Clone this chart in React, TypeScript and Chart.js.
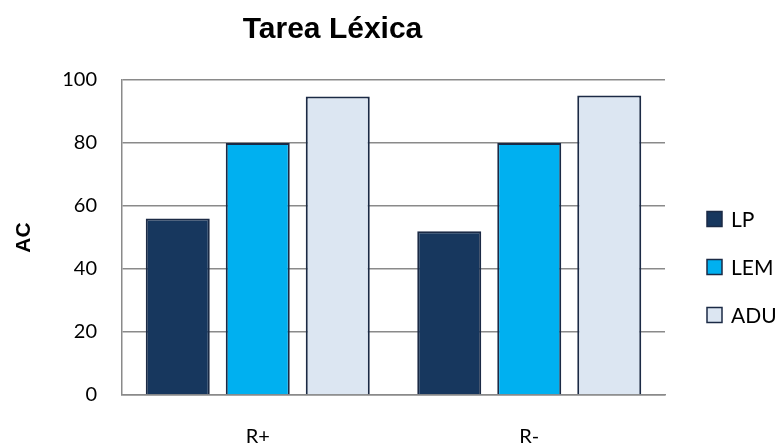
import React, { useEffect, useRef } from "react";
import { Chart, registerables } from "chart.js";

Chart.register(...registerables);

const chartTitle = "Tarea Léxica";
const yAxisTitle = "AC";
const categories = ["R+", "R-"];
const seriesNames = ["LP", "LEM", "ADU"];
const lpValues = [56, 52];
const lemValues = [80, 80];
const aduValues = [94.8, 95.1];
const yMin = 0;
const yMax = 100;
const yStep = 20;

const fills = ["#17375e", "#00b0f0", "#dce6f2"];
const barBorder = "#1b2a45";
const gridColor = "#8a8a8a";
const FONT = "Lato, 'Open Sans', sans-serif";
const TITLE_FONT = "'Liberation Sans', Arial, sans-serif";

const sideLegend = {
  id: "sideLegend",
  afterDraw(chart: any) {
    const { ctx, chartArea } = chart;
    const x = chartArea.right + 42;
    const y0 = chartArea.top + 139;
    const gap = 48;
    const size = 15;
    ctx.save();
    ctx.font = `21px ${FONT}`;
    ctx.textBaseline = "middle";
    ctx.textAlign = "left";
    chart.data.datasets.forEach((ds: any, i: number) => {
      const cy = y0 + i * gap;
      ctx.fillStyle = ds.backgroundColor;
      ctx.fillRect(x, cy - size / 2, size, size);
      ctx.strokeStyle = barBorder;
      ctx.lineWidth = 1.5;
      ctx.strokeRect(x, cy - size / 2, size, size);
      ctx.fillStyle = "#000";
      ctx.fillText(ds.label, x + 24, cy + 1);
    });
    ctx.restore();
  },
};

export default function App() {
  const ref = useRef<HTMLCanvasElement | null>(null);

  useEffect(() => {
    if (!ref.current) return;
    const seriesValues = [lpValues, lemValues, aduValues];
    const chart = new Chart(ref.current, {
      type: "bar",
      data: {
        labels: categories,
        datasets: seriesNames.map((name, i) => ({
          label: name,
          data: seriesValues[i],
          backgroundColor: fills[i],
          borderColor: barBorder,
          borderWidth: 2,
          categoryPercentage: 0.884,
          barPercentage: 0.8,
        })),
      },
      options: {
        responsive: false,
        animation: false,
        layout: { padding: { left: 0, right: 115, top: 0, bottom: 0 } },
        plugins: {
          legend: { display: false },
          tooltip: { enabled: false },
          title: {
            display: true,
            text: chartTitle,
            color: "#000",
            font: { family: TITLE_FONT, size: 30, weight: "bold" },
            padding: { top: 12, bottom: 32 },
          },
        },
        scales: {
          x: {
            grid: { display: false, drawTicks: false },
            border: { display: true, color: gridColor, width: 1.5 },
            ticks: { color: "#000", font: { family: FONT, size: 20 }, padding: 30 },
            afterFit: (s: any) => {
              s.height = 52;
            },
          },
          y: {
            min: yMin,
            max: yMax,
            ticks: {
              stepSize: yStep,
              color: "#000",
              font: { family: FONT, size: 20 },
              padding: 25,
            },
            grid: { color: gridColor, lineWidth: 1.5, drawTicks: false },
            border: { display: true, color: gridColor, width: 1.5 },
            title: {
              display: true,
              text: yAxisTitle,
              color: "#000",
              font: { family: TITLE_FONT, size: 21, weight: "bold" },
              padding: { top: 12, bottom: 0 },
            },
            afterFit: (s: any) => {
              s.width = 122;
            },
          },
        },
      },
      plugins: [sideLegend],
    });
    return () => chart.destroy();
  }, []);

  return (
    <div style={{ position: "absolute", left: 0, top: 0, width: 780, height: 447, background: "#fff" }}>
      <canvas ref={ref} width={780} height={447} />
    </div>
  );
}
